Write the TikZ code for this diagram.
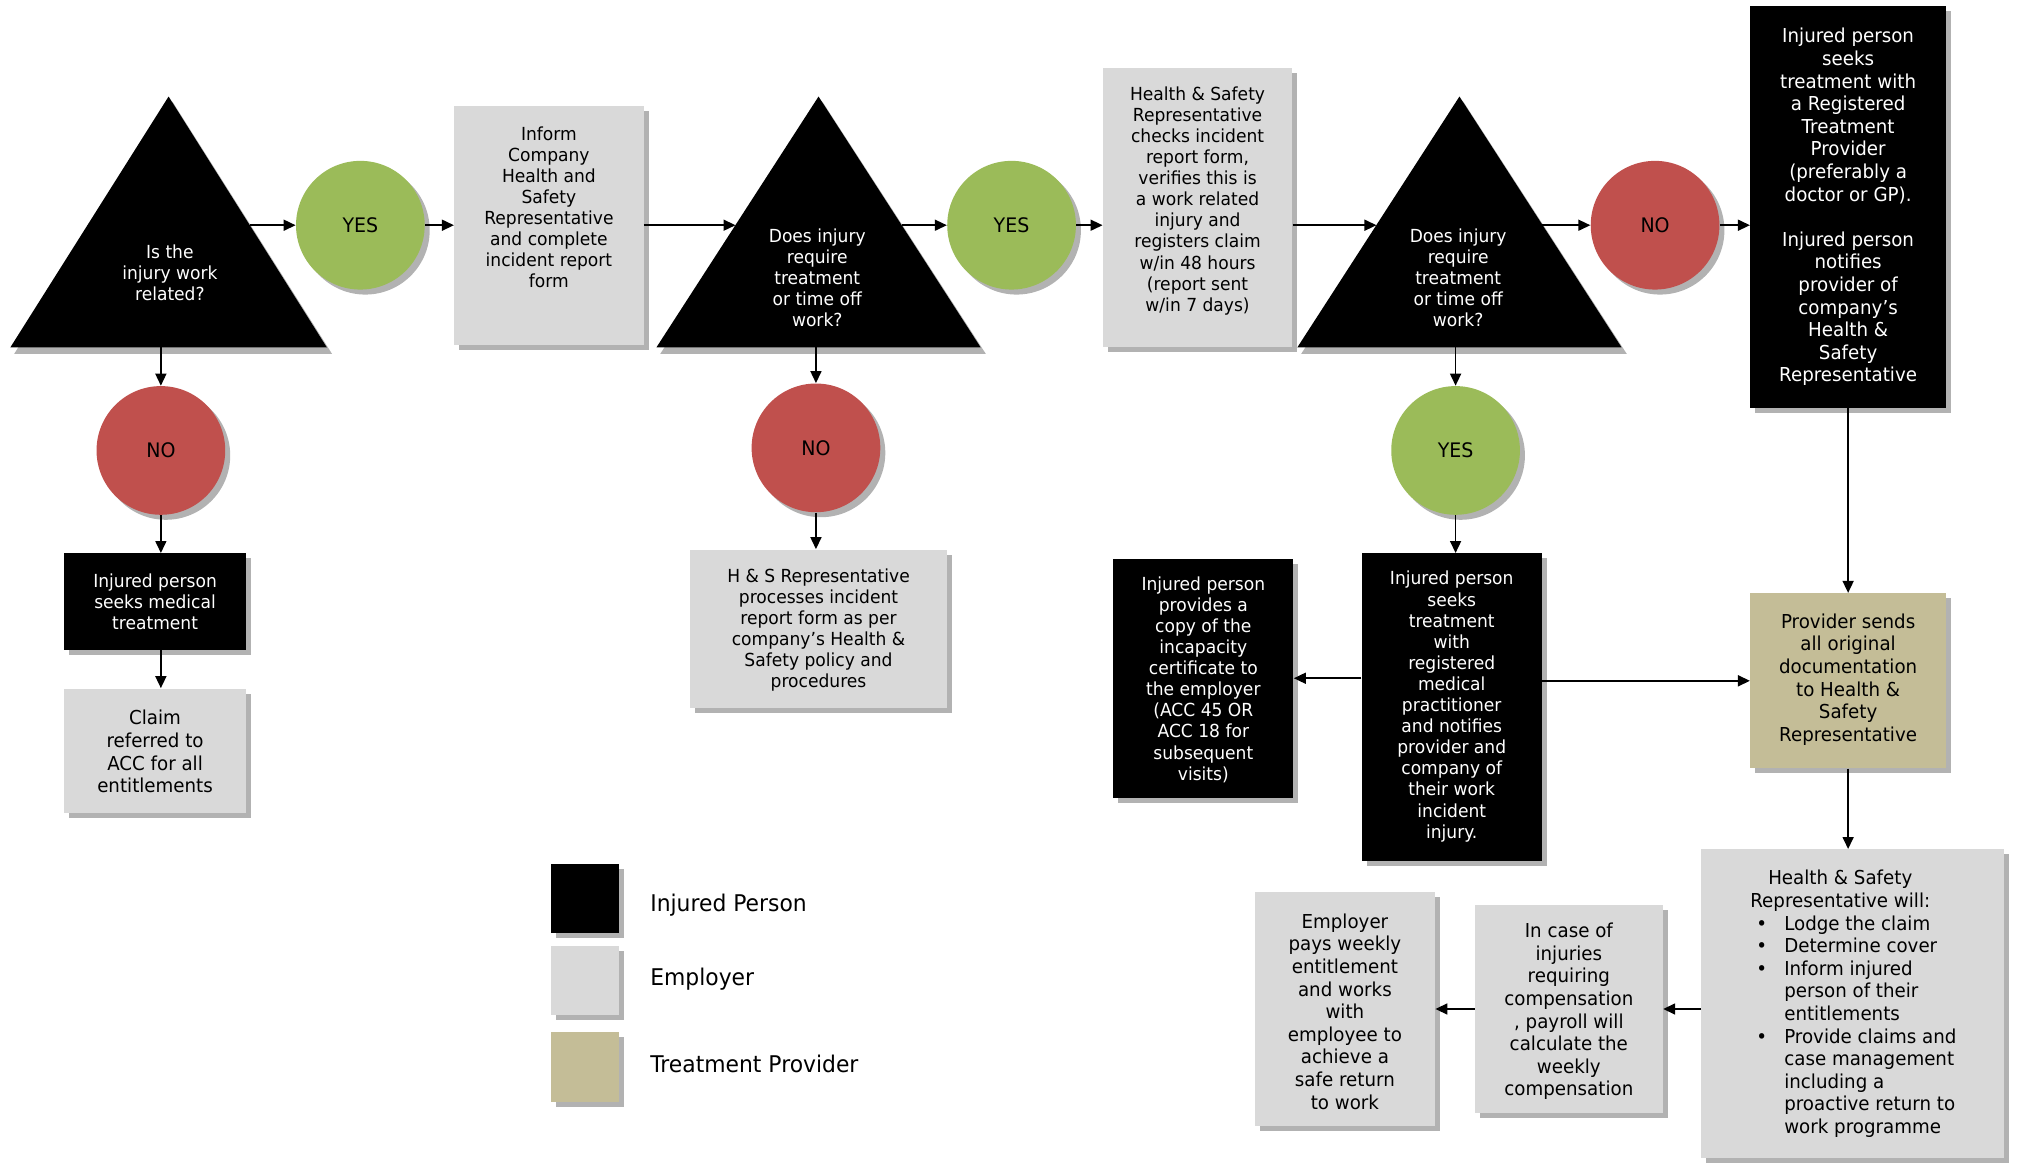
\documentclass[tikz,border=0pt]{standalone}
\usepackage{fontspec}
\setmainfont{DejaVu Sans}[FakeStretch=0.95]
\usetikzlibrary{arrows.meta,shadows,fit}
\definecolor{gbox}{HTML}{D9D9D9}
\definecolor{tanc}{HTML}{C4BD97}
\definecolor{grn}{HTML}{9BBB59}
\definecolor{redc}{HTML}{C0504D}
\newcommand\fsm{\fontsize{9}{10.55}\selectfont}
\newcommand\flg{\fontsize{9.6}{11.3}\selectfont}
\newcommand\bitem[1]{\par\noindent\hangindent=14pt\hangafter=1\makebox[14pt][l]{\textbullet}#1}
\tikzset{
  shd/.style={drop shadow={shadow xshift=2.5pt, shadow yshift=-2.5pt, opacity=0.3, fill=black}},
  boxbase/.style={inner sep=0pt, shd},
  blk/.style={boxbase, fill=black},
  gry/.style={boxbase, fill=gbox},
  tanb/.style={boxbase, fill=tanc},
  yesc/.style={circle, fill=grn, minimum size=64.35pt, inner sep=0pt, font=\fontsize{10}{12}\selectfont, shd},
  noc/.style={yesc, fill=redc},
  arr/.style={-{Triangle[length=6pt,width=5.5pt]}, line width=0.8pt},
  txt/.style={inner sep=0pt, align=center, font=\fsm},
  txtl/.style={inner sep=0pt, align=center, font=\flg},
  wtxt/.style={txt, text=white},
  wtxtl/.style={txtl, text=white},
  trishd/.style={fill=black, opacity=0.3},
  leg/.style={inner sep=0pt, shd},
  legtxt/.style={inner sep=0pt, anchor=west, font=\fontsize{11.5}{13}\selectfont}
}
\begin{document}
\begin{tikzpicture}[x=0.6435pt, y=-0.6435pt]
\useasboundingbox (0,0) rectangle (1568,904);

% ---- triangles
\fill[trishd] (134,79) -- (258,275) -- (11,275) -- cycle;
\fill[black] (131,75) -- (254,270) -- (8,270) -- cycle;
\fill[trishd] (639,79) -- (766,275) -- (513,275) -- cycle;
\fill[black] (636,75) -- (762,270) -- (510,270) -- cycle;
\fill[trishd] (1137,79) -- (1264,275) -- (1011,275) -- cycle;
\fill[black] (1134,75) -- (1260,270) -- (1008,270) -- cycle;
\node[wtxt] (q1) at (132,212) {Is the\\injury work\\related?};
\node[wtxt] (q2) at (635,216) {Does injury\\require\\treatment\\or time off\\work?};
\node[wtxt] (q3) at (1133,216) {Does injury\\require\\treatment\\or time off\\work?};
\coordinate (t1r) at (194.5,175);
\coordinate (t1b) at (125,270);
\coordinate (t2l) at (571.5,175);
\coordinate (t2r) at (700.5,175);
\coordinate (t2b) at (634,270);
\coordinate (t3l) at (1069.5,175);
\coordinate (t3r) at (1198.5,175);
\coordinate (t3b) at (1131,270);

% ---- circles
\node[yesc] (yes1) at (280,175) {YES};
\node[yesc] (yes2) at (786,175) {YES};
\node[noc]  (no3)  at (1286,175) {NO};
\node[noc]  (no1)  at (125,350) {NO};
\node[noc]  (no2)  at (634,348) {NO};
\node[yesc] (yes3) at (1131,350) {YES};

% ---- boxes
\node[gry, fit={(353,82) (500,268)}] (b2) {};
\node[txt] (b2t) at (426.5,161) {Inform\\Company\\Health and\\Safety\\Representative\\and complete\\incident report\\form};
\node[gry, fit={(857,53) (1004,270)}] (b4) {};
\node[txt] (b4t) at (930.5,156) {Health \& Safety\\Representative\\checks incident\\report form,\\verifies this is\\a work related\\injury and\\registers claim\\w/in 48 hours\\(report sent\\w/in 7 days)};
\node[blk, fit={(1360,5) (1512,317)}] (rb) {};
\node[wtxtl] (rbt) at (1436,161) {Injured person\\seeks\\treatment with\\a Registered\\Treatment\\Provider\\(preferably a\\doctor or GP).\\[11.3pt]Injured person\\notifies\\provider of\\company’s\\Health \&\\Safety\\Representative};
\node[blk, fit={(50,430) (191,505)}] (b1) {};
\node[wtxt] (b1t) at (120.5,467.5) {Injured person\\seeks medical\\treatment};
\node[gry, fit={(50,535) (191,632)}] (cl) {};
\node[txtl] (clt) at (120.5,584) {Claim\\referred to\\ACC for all\\entitlements};
\node[gry, fit={(536,427) (736,550)}] (hp) {};
\node[txt] (hpt) at (636,489.5) {H \& S Representative\\processes incident\\report form as per\\company’s Health \&\\Safety policy and\\procedures};
\node[blk, fit={(865,434) (1005,620)}] (lb) {};
\node[wtxt] (lbt) at (935,528) {Injured person\\provides a\\copy of the\\incapacity\\certificate to\\the employer\\(ACC 45 OR\\ACC 18 for\\subsequent\\visits)};
\node[blk, fit={(1058,430) (1198,669)}] (cb) {};
\node[wtxt] (cbt) at (1128,549) {Injured person\\seeks\\treatment\\with\\registered\\medical\\practitioner\\and notifies\\provider and\\company of\\their work\\incident\\injury.};
\node[tanb, fit={(1360,461) (1512,597)}] (tp) {};
\node[txtl] (tpt) at (1436,528) {Provider sends\\all original\\documentation\\to Health \&\\Safety\\Representative};
\node[gry, fit={(1322,660) (1557,900)}] (hsw) {};
\node[inner sep=0pt, font=\flg] (hswt) at (1447,780) {\begin{minipage}{106pt}\raggedright
{\centering\hspace*{-22pt}Health \& Safety\\\hspace*{-22pt}Representative will:\par}
\bitem{Lodge the claim}
\bitem{Determine cover}
\bitem{Inform injured\newline person of their\newline entitlements}
\bitem{Provide claims and\newline case management\newline including a\newline proactive return to\newline work programme}
\end{minipage}};
\node[gry, fit={(1146,703) (1292,865)}] (ic) {};
\node[txtl] (ict) at (1219,786) {In case of\\injuries\\requiring\\compensation\\, payroll will\\calculate the\\weekly\\compensation};
\node[gry, fit={(975,693) (1115,875)}] (emp) {};
\node[txtl] (empt) at (1045,786) {Employer\\pays weekly\\entitlement\\and works\\with\\employee to\\achieve a\\safe return\\to work};

% ---- legend
\node[leg, fill=black, fit={(428,671) (481,725)}] (lg1) {};
\node[leg, fill=gbox, fit={(428,735) (481,789)}] (lg2) {};
\node[leg, fill=tanc, fit={(428,802) (481,856)}] (lg3) {};
\node[legtxt] (lt1) at (505,703) {Injured Person};
\node[legtxt] (lt2) at (505,761) {Employer};
\node[legtxt] (lt3) at (505,827) {Treatment Provider};

% ---- connectors
\draw[arr] (t1r) -- (yes1.west);
\draw[arr] (yes1.east) -- (yes1.east -| b2.west);
\draw[arr] (b2.east |- t2l) -- (t2l);
\draw[arr] (t2r) -- (yes2.west);
\draw[arr] (yes2.east) -- (yes2.east -| b4.west);
\draw[arr] (b4.east |- t3l) -- (t3l);
\draw[arr] (t3r) -- (no3.west);
\draw[arr] (no3.east) -- (no3.east -| rb.west);
\draw[arr] (rb.south) -- (tp.north);
\draw[arr] (tp.south) -- (tp.south |- hsw.north);
\draw[arr] (ic.east -| hsw.west) -- (ic.east);
\draw[arr] (ic.west) -- (ic.west -| emp.east);
\draw[arr] (t1b) -- (no1.north);
\draw[arr] (no1.south) -- (no1.south |- b1.north);
\draw[arr] (no1.south |- b1.south) -- (no1.south |- cl.north);
\draw[arr] (t2b) -- (no2.north);
\draw[arr] (no2.south) -- (no2.south |- hp.north);
\draw[arr] (t3b) -- (yes3.north);
\draw[arr] (yes3.south) -- (yes3.south |- cb.north);
\draw[arr] (tp.west -| cb.east) -- (tp.west);
\draw[arr] (cb.west |- lb.east) -- (lb.east);
\end{tikzpicture}
\end{document}
